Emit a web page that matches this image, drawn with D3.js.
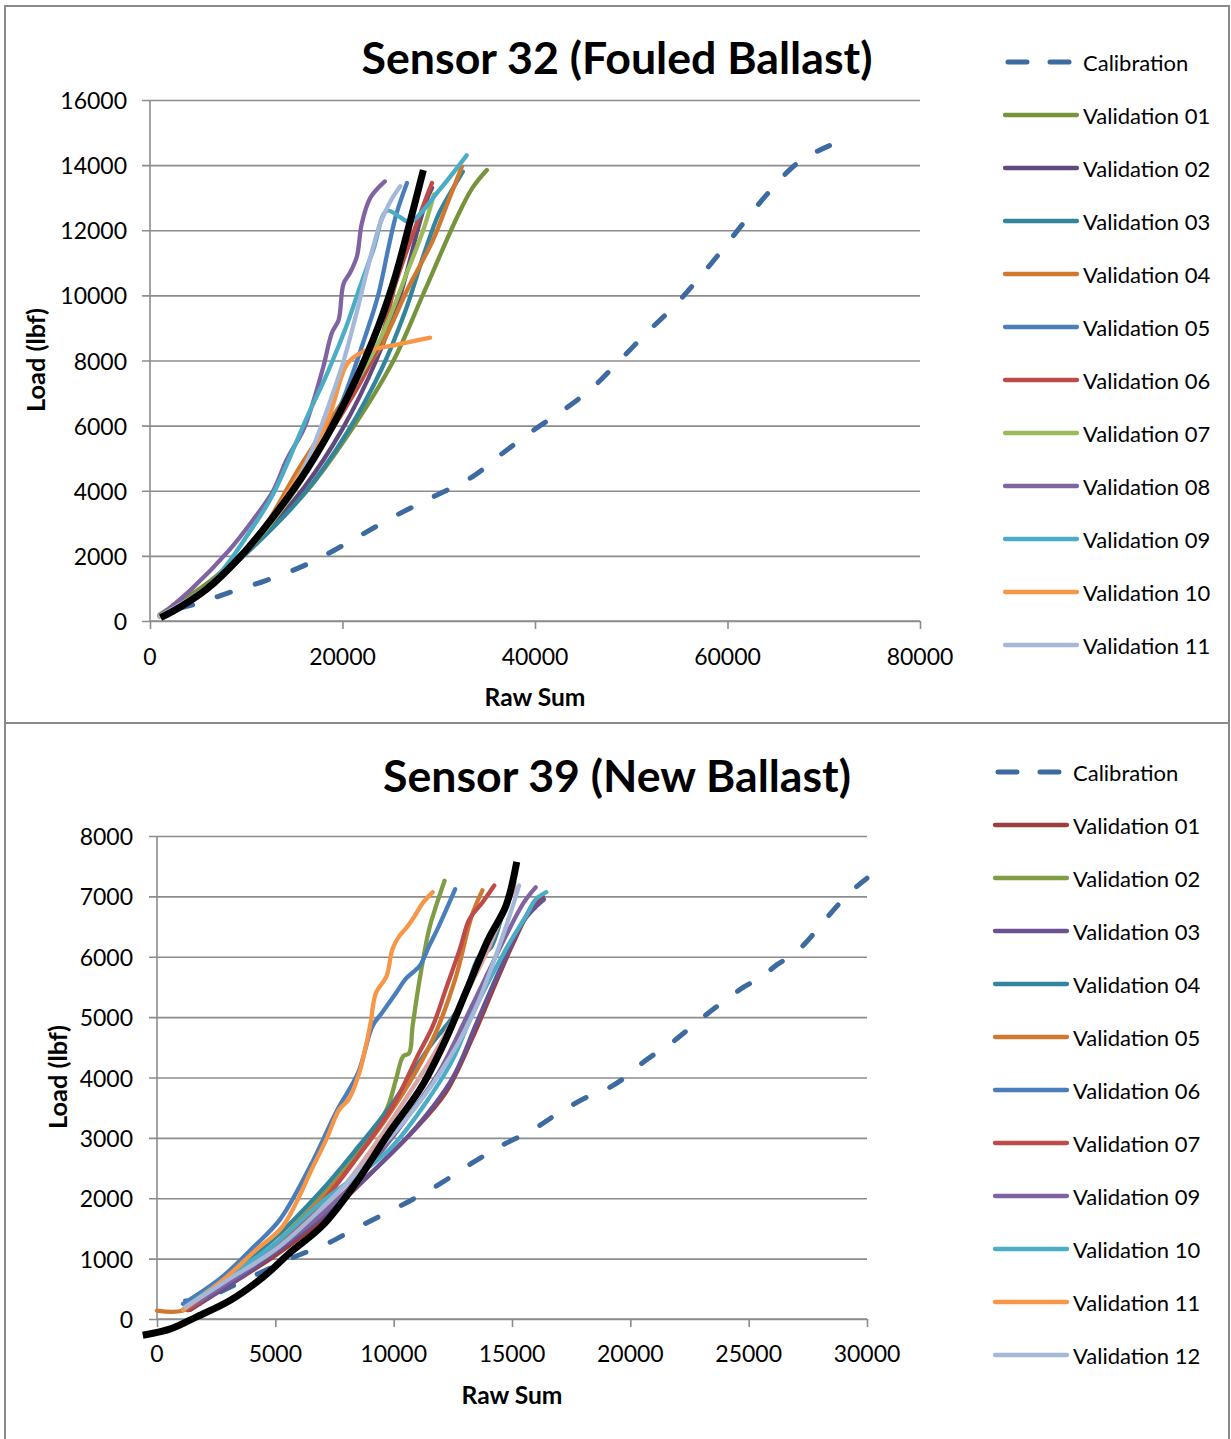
<!DOCTYPE html>
<html><head><meta charset="utf-8">
<script src="https://cdn.jsdelivr.net/npm/d3@7"></script>
<style>body{margin:0;background:#fff}svg{display:block}text{font-family:Lato,"Open Sans",sans-serif;fill:#000}</style>
</head><body><svg id="c" width="1231" height="1439"></svg>
<script>
// ---------- Sensor 32 (Fouled Ballast) ----------
const s32Title = "Sensor 32 (Fouled Ballast)";
const s32XTicks = [0, 20000, 40000, 60000, 80000];
const s32YTicks = [0, 2000, 4000, 6000, 8000, 10000, 12000, 14000, 16000];
const s32Names = ["Calibration","Validation 01","Validation 02","Validation 03","Validation 04","Validation 05","Validation 06","Validation 07","Validation 08","Validation 09","Validation 10","Validation 11"];
const s32Colors = ["#3D6AA0","#77933C","#604A7B","#31859C","#D0782F","#4A7EBB","#BE4B48","#9BBB59","#8064A2","#4BACC6","#F79646","#A5B8D8"];
const s32Cal = [[700,250],[4500,500],[8000,850],[12100,1250],[16000,1700],[19000,2150],[22000,2650],[25300,3200],[29000,3750],[33600,4450],[36400,5100],[39800,5850],[43300,6550],[46100,7200],[48800,8000],[51600,8850],[54400,9650],[56800,10450],[59200,11300],[61600,12200],[64100,13100],[66800,13950],[68500,14300],[70600,14600]];
const s32V01 = [[1000,200],[5900,1150],[11100,2500],[16300,4000],[21100,5950],[25300,8000],[28400,10050],[31900,12400],[33500,13300],[35000,13850]];
const s32V02 = [[1000,150],[6000,1050],[11000,2400],[16000,4100],[20000,5900],[23500,8000],[26000,10000],[27800,12000],[28700,12900],[29300,13300]];
const s32V03 = [[1000,150],[6000,1050],[11000,2350],[16000,3900],[20500,5800],[24000,7700],[26500,9500],[28500,11300],[30000,12500],[31500,13300],[32500,13800]];
const s32V04 = [[1000,150],[6000,1050],[11000,2500],[15600,4750],[19700,6600],[23900,8400],[26700,10150],[29400,11700],[31000,12900],[32400,13950]];
const s32V05 = [[1000,150],[6000,1050],[11000,2500],[16000,4500],[19500,6400],[22200,8600],[23700,10000],[24800,11500],[25600,12500],[26700,13450]];
const s32V06 = [[1000,150],[6000,1050],[11000,2500],[15500,4300],[19800,6300],[22000,7400],[24000,8650],[25500,10350],[27700,12200],[28700,13000],[29300,13450]];
const s32V07 = [[1000,150],[6000,1050],[11000,2450],[15500,4200],[20400,6800],[23900,8650],[26700,10700],[28500,12100],[29500,13100]];
const s32V08 = [[1000,150],[4200,950],[8300,2200],[10700,3100],[12800,4000],[14200,4950],[15900,5850],[16600,6400],[18000,7800],[18900,8850],[19600,9250],[20100,10350],[20800,10700],[21500,11200],[22000,12200],[22900,13000],[24400,13500]];
const s32V09 = [[1000,150],[6000,1050],[10500,2800],[12800,3900],[16300,6250],[18400,7600],[20400,9050],[21800,10250],[23200,11400],[24600,12600],[26000,12400],[27000,12250],[30100,13250],[32900,14300]];
const s32V10 = [[1000,150],[6000,1050],[11000,2550],[15000,4250],[18500,6200],[20500,7900],[22000,8250],[25000,8450],[29100,8700]];
const s32V11 = [[1000,150],[6000,1050],[11000,2500],[15500,4400],[19700,7600],[21100,9050],[22500,10700],[23200,11500],[23900,12200],[25000,12900],[26000,13350]];
const s32Fit = [[1100,100],[3100,420],[5900,980],[9300,1950],[12800,3200],[16300,4650],[19700,6400],[23200,8650],[25300,10400],[26700,11900],[28400,13850]];

// ---------- Sensor 39 (New Ballast) ----------
const s39Title = "Sensor 39 (New Ballast)";
const s39XTicks = [0, 5000, 10000, 15000, 20000, 25000, 30000];
const s39YTicks = [0, 1000, 2000, 3000, 4000, 5000, 6000, 7000, 8000];
const s39Names = ["Calibration","Validation 01","Validation 02","Validation 03","Validation 04","Validation 05","Validation 06","Validation 07","Validation 09","Validation 10","Validation 11","Validation 12"];
const s39Colors = ["#3D6AA0","#9C3F3C","#7F9D45","#6A5190","#31849B","#D0782F","#4A7EBB","#BE4B48","#8064A2","#4BACC6","#F79646","#A5B8D8"];
const s39ExtraColor = "#D8A5A4";
const s39Cal = [[1200,300],[1900,330],[4000,700],[5200,920],[6000,1060],[7200,1250],[8400,1500],[9400,1700],[10800,1980],[12000,2250],[13300,2580],[14500,2860],[15900,3140],[17000,3420],[18300,3700],[19000,3810],[19700,3980],[20300,4180],[21000,4380],[21500,4500],[22300,4750],[23500,5130],[24800,5500],[25500,5650],[26200,5870],[26900,6040],[27500,6270],[28000,6500],[28600,6780],[29200,7040],[30000,7300]];
const s39V01 = [[1400,150],[3000,550],[5000,1050],[7000,1650],[9000,2400],[10800,3100],[12200,3750],[13300,4630],[14200,5460],[15000,6180],[15870,6850],[16300,7000]];
const s39V02 = [[1200,200],[3000,700],[5000,1250],[7000,2050],[8500,2750],[9700,3470],[10100,3970],[10400,4350],[10650,4400],[10800,4850],[11100,5630],[11500,6460],[11800,6850],[12150,7260]];
const s39V03 = [[1300,150],[3000,550],[5000,1100],[7000,1700],[9000,2400],[11000,3200],[12500,4000],[13500,4900],[14500,5800],[15500,6600],[16350,6950]];
const s39V04 = [[1200,250],[3000,750],[5000,1350],[7000,2150],[8500,2850],[10000,3600],[11500,4500],[12800,5180],[13600,6000],[14100,6150],[14600,6700],[15100,7230]];
const s39V05 = [[0,140],[1100,140],[2500,500],[4500,1050],[6500,1800],[8500,2700],[10000,3500],[11650,4630],[12600,5630],[13300,6680],[13750,7100]];
const s39V06 = [[1100,250],[2700,680],[4100,1200],[5200,1650],[6500,2550],[7600,3450],[8500,4080],[9100,4850],[9500,5070],[10100,5400],[10500,5630],[11100,5850],[11500,6180],[11900,6500],[12600,7120]];
const s39V07 = [[1300,150],[3000,650],[5000,1200],[7000,1950],[8500,2700],[10000,3550],[11000,4350],[11650,4850],[12200,5460],[12800,6130],[13200,6620],[13750,6900],[14250,7180]];
const s39V08 = [[1100,150],[3000,650],[5000,1150],[7000,1800],[8500,2500],[10500,3640],[11900,4520],[13300,5570],[14000,6130],[14700,6800],[15150,7150]];
const s39V09 = [[1100,150],[3000,600],[5000,1150],[7000,1750],[9000,2550],[10500,3300],[11900,4080],[13300,5180],[14750,6350],[15500,6900],[16000,7150]];
const s39V10 = [[1200,200],[3000,700],[5000,1250],[7000,1950],[9800,2800],[11650,3750],[12500,4300],[13350,5070],[14750,6130],[15600,6680],[16000,6950],[16450,7070]];
const s39V11 = [[1100,150],[2800,650],[4200,1150],[5300,1530],[6600,2530],[7150,2970],[7700,3470],[8100,3640],[8550,4080],[9000,4850],[9250,5400],[9700,5680],[9950,6130],[10250,6350],[10500,6460],[10800,6620],[11250,6900],[11650,7070]];
const s39V12 = [[1200,200],[3000,650],[5000,1150],[7000,1850],[9000,2650],[10500,3300],[12000,4100],[13300,5000],[14300,6000],[15000,6800],[15300,7180]];
const s39Fit = [[-600,-270],[600,-160],[1700,40],[3100,310],[4500,700],[5600,1090],[7000,1550],[8400,2250],[9800,3080],[11200,3860],[12200,4630],[13100,5460],[14000,6290],[14750,6850],[15200,7570]];

const svg = d3.select("#c");
const FONT_TICK = 23, FONT_LEG = 22;

// frames
svg.append("rect").attr("x",5).attr("y",6).attr("width",1224).attr("height",717)
  .attr("fill","none").attr("stroke","#8a8a8a").attr("stroke-width",2);
svg.append("rect").attr("x",5).attr("y",723).attr("width",1224).attr("height",730)
  .attr("fill","none").attr("stroke","#8a8a8a").attr("stroke-width",2);

function fitWidth(t, target){
  const len = t.node().getComputedTextLength();
  const fs = parseFloat(t.attr("font-size"));
  t.attr("font-size", fs*target/len);
}

function drawChart(cfg){
  const g = svg.append("g");
  const x = d3.scaleLinear().domain([cfg.xTicks[0], cfg.xTicks[cfg.xTicks.length-1]]).range([cfg.left, cfg.right]);
  const y = d3.scaleLinear().domain([cfg.yTicks[0], cfg.yTicks[cfg.yTicks.length-1]]).range([cfg.bottom, cfg.top]);
  // gridlines
  const yAxis = d3.axisLeft(y).tickValues(cfg.yTicks).tickSize(-(cfg.right-cfg.left)).tickFormat("");
  const ya = g.append("g").attr("transform",`translate(${cfg.left},0)`).call(yAxis);
  ya.select(".domain").remove();
  ya.selectAll(".tick line").attr("stroke","#8c8c8c").attr("stroke-width",1.6).attr("x1",-8);
  // y axis line
  g.append("line").attr("x1",cfg.left).attr("x2",cfg.left).attr("y1",cfg.top).attr("y2",cfg.bottom)
    .attr("stroke","#8c8c8c").attr("stroke-width",1.6);
  // x ticks
  const xAxis = d3.axisBottom(x).tickValues(cfg.xTicks).tickSize(8).tickFormat("");
  const xa = g.append("g").attr("transform",`translate(0,${cfg.bottom})`).call(xAxis);
  xa.select(".domain").attr("stroke","#8c8c8c").attr("stroke-width",1.6).attr("d",`M${cfg.left},0H${cfg.right}`);
  xa.selectAll(".tick line").attr("stroke","#8c8c8c").attr("stroke-width",1.6);
  // tick labels
  cfg.yTicks.forEach(v=>{
    g.append("text").attr("x",cfg.yLabelX).attr("y",y(v)).attr("text-anchor","end")
      .attr("dominant-baseline","central").attr("font-size",FONT_TICK).text(v);
  });
  cfg.xTicks.forEach(v=>{
    g.append("text").attr("x",x(v)).attr("y",cfg.xLabelY).attr("text-anchor","middle")
      .attr("dominant-baseline","central").attr("font-size",FONT_TICK).text(v);
  });
  // titles
  const tt = g.append("text").attr("x",cfg.titleX).attr("y",cfg.titleY).attr("text-anchor","middle")
    .attr("dominant-baseline","central").attr("font-weight","bold").attr("font-size",40).text(cfg.title);
  fitWidth(tt, cfg.titleW);
  const xt = g.append("text").attr("x",cfg.xTitleX).attr("y",cfg.xTitleY).attr("text-anchor","middle")
    .attr("dominant-baseline","central").attr("font-weight","bold").attr("font-size",21).text("Raw Sum");
  fitWidth(xt, 101);
  const yt = g.append("text").attr("transform",`translate(${cfg.yTitleX},${cfg.yTitleY}) rotate(-90)`)
    .attr("text-anchor","middle").attr("dominant-baseline","central").attr("font-weight","bold")
    .attr("font-size",21).text("Load (lbf)");
  fitWidth(yt, 104);
  // series
  const line = d3.line().x(d=>x(d[0])).y(d=>y(d[1])).curve(d3.curveCatmullRom.alpha(0.5));
  cfg.series.forEach(s=>{
    const p = g.append("path").attr("d",line(s.data)).attr("fill","none").attr("stroke",s.color)
      .attr("stroke-width",s.dash?5:4.3).attr("stroke-linecap","round").attr("stroke-linejoin","round");
    if(s.dash){
      const len = p.node().getTotalLength();
      p.attr("stroke-dasharray","14,26").attr("stroke-dashoffset", 13.5 - (len % 40));
    }
  });
  g.append("path").attr("d",line(cfg.fit)).attr("fill","none").attr("stroke","#000")
    .attr("stroke-width",7).attr("stroke-linecap","butt").attr("stroke-linejoin","round");
  // legend
  cfg.names.forEach((n,i)=>{
    const ly = cfg.legTop + i*cfg.legStep;
    const dash = i===0;
    g.append("line").attr("x1",cfg.legX+(dash?3:0)).attr("x2",cfg.legX+(dash?65:72)).attr("y1",ly).attr("y2",ly)
      .attr("stroke",cfg.colors[i]).attr("stroke-width",dash?5:4.3).attr("stroke-linecap","round")
      .attr("stroke-dasharray",dash?"19,23":null);
    g.append("text").attr("x",cfg.legX+78).attr("y",ly).attr("dominant-baseline","central")
      .attr("font-size",FONT_LEG).text(n);
  });
}

const s32Series = [s32Cal,s32V01,s32V02,s32V03,s32V04,s32V05,s32V06,s32V07,s32V08,s32V09,s32V10,s32V11]
  .map((d,i)=>({data:d,color:s32Colors[i],dash:i===0}));
drawChart({title:s32Title,xTicks:s32XTicks,yTicks:s32YTicks,left:150,right:920,top:100,bottom:621,
  yLabelX:127,xLabelY:656,titleX:617,titleY:57,titleW:511,xTitleX:535,xTitleY:696,yTitleX:35,yTitleY:360,
  series:s32Series,fit:s32Fit,names:s32Names,colors:s32Colors,legX:1005,legTop:62,legStep:53});

const s39List = [s39Cal,s39V01,s39V02,s39V03,s39V04,s39V05,s39V06,s39V07,s39V09,s39V10,s39V11,s39V12];
const s39Series = s39List.map((d,i)=>({data:d,color:s39Colors[i],dash:i===0}));
s39Series.splice(8,0,{data:s39V08,color:s39ExtraColor,dash:false});
drawChart({title:s39Title,xTicks:s39XTicks,yTicks:s39YTicks,left:157,right:867,top:836,bottom:1319,
  yLabelX:133,xLabelY:1353,titleX:617,titleY:775,titleW:468,xTitleX:512,xTitleY:1394,yTitleX:57,yTitleY:1077,
  series:s39Series,fit:s39Fit,names:s39Names,colors:s39Colors,legX:995,legTop:772,legStep:53});
</script></body></html>
